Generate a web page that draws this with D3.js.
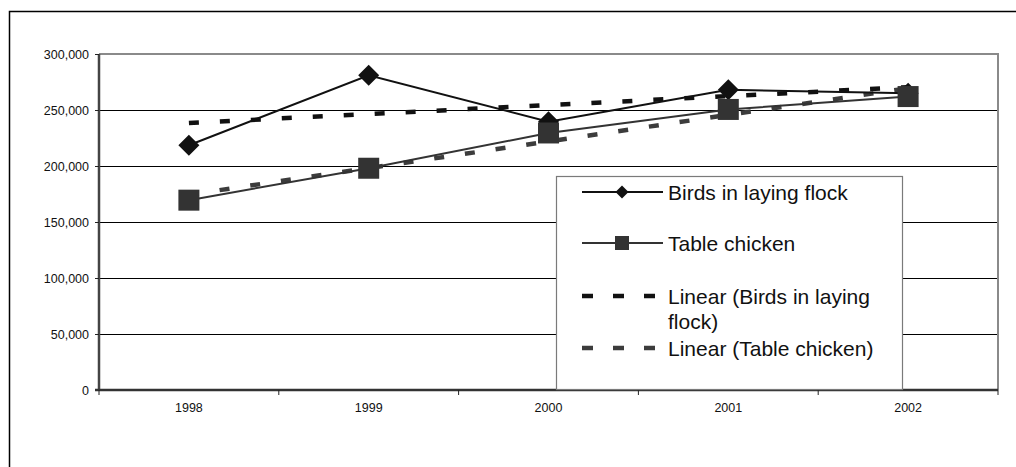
<!DOCTYPE html>
<html>
<head>
<meta charset="utf-8">
<script src="https://cdn.jsdelivr.net/npm/d3@7"></script>
<style>
  html, body { margin: 0; padding: 0; background: #fff; }
  svg { display: block; font-family: "Liberation Sans", Arial, sans-serif; }
</style>
</head>
<body>
<svg id="chart" width="1016" height="467"></svg>
<script>
// Poultry numbers per year
const years = ["1998", "1999", "2000", "2001", "2002"];
const layingFlock = [218500, 281000, 239500, 268000, 265000];
const tableChicken = [169500, 198000, 229500, 250500, 262000];
const yTicks = [0, 50000, 100000, 150000, 200000, 250000, 300000];
const seriesNames = ["Birds in laying flock", "Table chicken"];

const svg = d3.select("#chart");
const plot = { left: 99, right: 998, top: 54, bottom: 390 };

const x = d3.scaleBand().domain(years).range([plot.left, plot.right]).padding(0);
const y = d3.scaleLinear().domain([0, 300000]).range([plot.bottom, plot.top]);
const cx = d => x(d) + x.bandwidth() / 2;

// Least-squares trend over the year index, evaluated at every year
function linearTrend(values) {
  const n = values.length;
  const xs = d3.range(n);
  const mx = d3.mean(xs), my = d3.mean(values);
  const slope = d3.sum(xs, i => (i - mx) * (values[i] - my)) / d3.sum(xs, i => (i - mx) ** 2);
  return xs.map(i => my + slope * (i - mx));
}

// Outer chart frame
svg.append("rect")
  .attr("x", 9.5).attr("y", 11.5).attr("width", 1020).attr("height", 470)
  .attr("fill", "#fff").attr("stroke", "#000").attr("stroke-width", 1.5);

// Horizontal gridlines
svg.append("g").selectAll("line")
  .data(yTicks.filter(t => t > 0 && t < 300000))
  .join("line")
  .attr("x1", plot.left).attr("x2", plot.right)
  .attr("y1", d => Math.round(y(d)) + 0.5).attr("y2", d => Math.round(y(d)) + 0.5)
  .attr("stroke", "#000").attr("stroke-width", 1);

// Plot area frame (top and right)
svg.append("path")
  .attr("d", `M${plot.left},${plot.top}H${plot.right}V${plot.bottom}`)
  .attr("fill", "none").attr("stroke", "#8a8a8a").attr("stroke-width", 2);

// Y axis
const yAxis = svg.append("g")
  .attr("transform", `translate(${plot.left},0)`)
  .call(d3.axisLeft(y).tickValues(yTicks).tickFormat(d3.format(",")).tickSize(4).tickPadding(6));
yAxis.select(".domain").attr("stroke", "#444").attr("stroke-width", 2.5)
  .attr("d", `M0,${plot.top}V${plot.bottom}`);
yAxis.selectAll(".tick line").attr("stroke", "#222").attr("stroke-width", 1);
yAxis.selectAll(".tick text").attr("font-size", "12.5px").attr("fill", "#111")
  .attr("font-family", "Liberation Sans, Arial, sans-serif");

// X axis: labels at category centres, ticks between categories
const xAxis = svg.append("g")
  .attr("transform", `translate(0,${plot.bottom})`)
  .call(d3.axisBottom(x).tickSize(0).tickPadding(13));
xAxis.select(".domain").attr("stroke", "#333").attr("stroke-width", 2.5)
  .attr("d", `M${plot.left - 4},0H${plot.right}`);
xAxis.selectAll(".tick text").attr("font-size", "12.5px").attr("fill", "#111")
  .attr("font-family", "Liberation Sans, Arial, sans-serif");
xAxis.append("g").selectAll("line")
  .data(d3.range(years.length + 1))
  .join("line")
  .attr("x1", i => plot.left + i * x.step()).attr("x2", i => plot.left + i * x.step())
  .attr("y1", 0).attr("y2", 5)
  .attr("stroke", "#222").attr("stroke-width", 1);

// Series definitions
const series = [
  { name: seriesNames[0], values: layingFlock, color: "#111", marker: "diamond" },
  { name: seriesNames[1], values: tableChicken, color: "#333", marker: "square" }
];
const trendColors = ["#111", "#3c3c3c"];

const line = d3.line().x((d, i) => cx(years[i])).y(d => y(d));

// Trend lines
series.forEach((s, k) => {
  const t = linearTrend(s.values);
  svg.append("path")
    .datum(t)
    .attr("d", line)
    .attr("fill", "none").attr("stroke", trendColors[k])
    .attr("stroke-width", 4.5).attr("stroke-dasharray", "10,21");
});

function drawMarker(g, type, size, color) {
  if (type === "diamond") {
    g.append("path").attr("d", `M0,${-size}L${size},0L0,${size}L${-size},0Z`).attr("fill", color);
  } else {
    g.append("rect").attr("x", -size).attr("y", -size)
      .attr("width", 2 * size).attr("height", 2 * size).attr("fill", color);
  }
}

// Data lines and markers
series.forEach(s => {
  svg.append("path").datum(s.values).attr("d", line)
    .attr("fill", "none").attr("stroke", s.color).attr("stroke-width", 2);
});
series.forEach(s => {
  s.values.forEach((v, i) => {
    const g = svg.append("g").attr("transform", `translate(${cx(years[i])},${y(v)})`);
    drawMarker(g, s.marker, 10.5, s.color);
  });
});

// Legend
const legend = svg.append("g");
legend.append("rect")
  .attr("x", 556.5).attr("y", 176.5).attr("width", 346).attr("height", 213)
  .attr("fill", "#fff").attr("stroke", "#7a7a7a").attr("stroke-width", 1.2);

const lx1 = 582, lx2 = 663, lmid = 622, tx = 668;
const legendFont = "21px";
function legendText(xp, yp, str) {
  legend.append("text").attr("x", xp).attr("y", yp)
    .attr("font-size", legendFont).attr("fill", "#111").text(str);
}

// Series entries
[192, 243].forEach((ly, k) => {
  const s = series[k];
  legend.append("line").attr("x1", lx1).attr("x2", lx2).attr("y1", ly).attr("y2", ly)
    .attr("stroke", s.color).attr("stroke-width", 2);
  const g = legend.append("g").attr("transform", `translate(${lmid},${ly})`);
  drawMarker(g, s.marker, s.marker === "diamond" ? 6.5 : 7, s.color);
  legendText(tx, ly + 7.5, s.name);
});

// Trend entries
[[296, ["Linear (" + seriesNames[0].replace(" flock", ""), "flock)"]],
 [348, ["Linear (" + seriesNames[1] + ")"]]].forEach(([ly, lines], k) => {
  legend.append("line").attr("x1", lx1).attr("x2", lx2 + 2).attr("y1", ly).attr("y2", ly)
    .attr("stroke", trendColors[k]).attr("stroke-width", 4.5).attr("stroke-dasharray", "11,20");
  lines.forEach((str, j) => legendText(tx, ly + 7.5 + j * 25, str));
});
</script>
</body>
</html>
